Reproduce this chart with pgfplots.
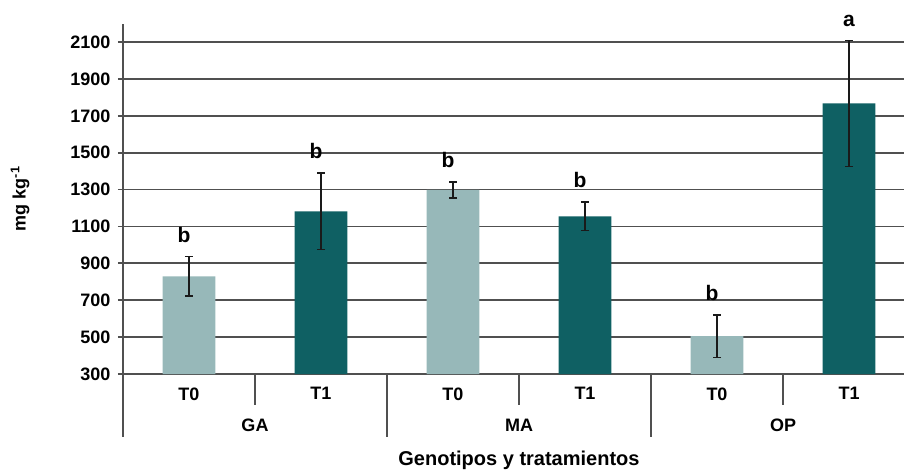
\documentclass[border=0pt]{standalone}
\usepackage{pgfplots}
\pgfplotsset{compat=1.18}
\usepackage{fontspec}
\setmainfont{Liberation Sans}
\definecolor{lightbar}{HTML}{97B8B9}
\definecolor{darkbar}{HTML}{0F6063}
\definecolor{gridc}{HTML}{505050}
\definecolor{errc}{HTML}{1A1A1A}
\begin{document}
\begin{tikzpicture}
\begin{axis}[
  scale only axis, width=781pt, height=350.4pt,
  at={(0,0)}, anchor=south west,
  xmin=-0.5, xmax=5.4167, ymin=300, ymax=2200,
  axis x line*=bottom, axis y line*=left,
  axis line style={draw=gridc, line width=1.8pt, -},
  ytick={300,500,...,2100},
  ymajorgrids, grid style={draw=gridc, line width=1.8pt},
  xtick={0,...,5}, xticklabels={T0,T1,T0,T1,T0,T1},
  xtick style={draw=none},
  ytick style={draw=gridc, line width=1.8pt},
  tick align=outside, major tick length=5pt,
  /pgf/number format/assume math mode=true,
  /pgf/number format/set thousands separator={},
  ticklabel style={font=\bfseries\fontsize{18}{21}\selectfont},
  xticklabel style={yshift=-5pt},
  yticklabel style={xshift=-4pt},
  clip mode=individual,
  ylabel={mg kg\textsuperscript{-1}},
  ylabel style={at={(axis description cs:-0.1319,0.5)}, anchor=center, font=\bfseries\fontsize{18}{21}\selectfont},
  xlabel={Genotipos y tratamientos},
  xlabel style={at={(axis description cs:0.507,-0.2454)}, anchor=center, font=\bfseries\fontsize{20}{23}\selectfont},
]
\addplot[ybar, bar width=0.4, bar shift=0pt, fill=lightbar, draw=none,
  error bars/.cd, y dir=both, y explicit,
  error bar style={errc, line width=1.4pt},
  error mark options={errc, line width=1.4pt, mark size=4pt, rotate=90}]
  table[x=x, y=y, y error=e] {
x y e
0 830 108
2 1298 44
4 505 116
};
\addplot[ybar, bar width=0.4, bar shift=0pt, fill=darkbar, draw=none,
  error bars/.cd, y dir=both, y explicit,
  error bar style={errc, line width=1.4pt},
  error mark options={errc, line width=1.4pt, mark size=4pt, rotate=90}]
  table[x=x, y=y, y error=e] {
x y e
1 1182 208
3 1155 78
5 1767 342
};
\addplot[draw=none, mark=none, nodes near coords, point meta=explicit symbolic,
  nodes near coords style={anchor=base, yshift=14pt, xshift=-5pt, font=\bfseries\fontsize{21}{24}\selectfont}]
  table[x=x, y=y, meta=l] {
x y l
0 938 b
1 1390 b
2 1342 b
3 1233 b
4 621 b
};
\addplot[draw=none, mark=none, nodes near coords, point meta=explicit symbolic,
  nodes near coords style={anchor=base, yshift=14pt, font=\bfseries\fontsize{21}{24}\selectfont}]
  table[x=x, y=y, meta=l] {
x y l
5 2109 a
};
\draw[gridc, line width=1.8pt] (axis cs:-0.5,300) -- ([yshift=-63pt]axis cs:-0.5,300);
\draw[gridc, line width=1.8pt] (axis cs:1.5,300) -- ([yshift=-63pt]axis cs:1.5,300);
\draw[gridc, line width=1.8pt] (axis cs:3.5,300) -- ([yshift=-63pt]axis cs:3.5,300);
\draw[gridc, line width=1.8pt] (axis cs:0.5,300) -- ([yshift=-31pt]axis cs:0.5,300);
\draw[gridc, line width=1.8pt] (axis cs:2.5,300) -- ([yshift=-31pt]axis cs:2.5,300);
\draw[gridc, line width=1.8pt] (axis cs:4.5,300) -- ([yshift=-31pt]axis cs:4.5,300);
\node[font=\bfseries\fontsize{18}{21}\selectfont] at (axis cs:0.5,300) [yshift=-51pt] {GA};
\node[font=\bfseries\fontsize{18}{21}\selectfont] at (axis cs:2.5,300) [yshift=-51pt] {MA};
\node[font=\bfseries\fontsize{18}{21}\selectfont] at (axis cs:4.5,300) [yshift=-51pt] {OP};
\end{axis}
\pgfresetboundingbox
\path[use as bounding box] (-123pt,-97pt) rectangle (781pt,374pt);
\end{tikzpicture}
\end{document}
